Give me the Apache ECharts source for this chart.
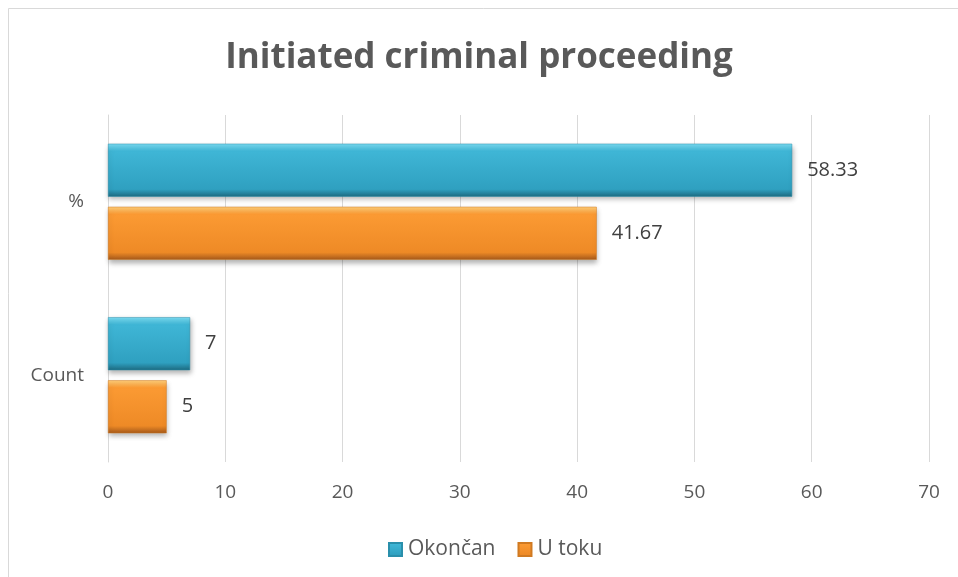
<!DOCTYPE html>
<html>
<head>
<meta charset="utf-8">
<script src="https://cdn.jsdelivr.net/npm/echarts@6/dist/echarts.min.js"></script>
<style>html,body{margin:0;padding:0;background:#fff}#c{width:958px;height:577px}</style>
</head>
<body>
<div id="c"></div>
<script>
const titleText = 'Initiated criminal proceeding';
const categories = ['%', 'Count'];
const seriesNames = ['Okončan', 'U toku'];
const okoncanValues = [58.33, 7];
const uTokuValues = [41.67, 5];
const xTicks = [0, 10, 20, 30, 40, 50, 60, 70];

const FONT = 'Open Sans';
function grad(c0, c1, c2, c3) {
  return new echarts.graphic.LinearGradient(0, 0, 0, 1, [
    {offset: 0, color: c0}, {offset: 0.14, color: c1},
    {offset: 0.86, color: c2}, {offset: 1, color: c3}
  ]);
}
const blueFill = grad('#7adcf2', '#3fb6d6', '#2fa0c0', '#1d6a80');
const orangeFill = grad('#ffcf7a', '#fb9a33', '#ee8a26', '#a4581a');

const chart = echarts.init(document.getElementById('c'), null, {renderer: 'canvas'});
const labelStyle = {show: true, position: 'right', distance: 15, color: '#404040', fontSize: 20, fontFamily: FONT};
chart.setOption({
  animation: false,
  backgroundColor: '#fff',
  graphic: [{
    type: 'rect', shape: {x: 8.5, y: 8.5, width: 1000, height: 1000},
    style: {fill: 'none', stroke: '#d9d9d9', lineWidth: 1}, silent: true
  }],
  title: {
    text: titleText, left: 'center', top: 36,
    textStyle: {fontFamily: FONT, fontWeight: 'bold', fontSize: 35, color: '#595959'}
  },
  legend: {
    bottom: 12, left: 383, itemWidth: 13, itemHeight: 13, itemGap: 22,
    icon: 'rect',
    textStyle: {fontFamily: FONT, fontSize: 21, color: '#595959', padding: [0, 0, 0, 1]},
    data: seriesNames
  },
  grid: {left: 108, right: 29, top: 115, bottom: 115, containLabel: false},
  xAxis: {
    type: 'value', min: xTicks[0], max: xTicks[xTicks.length - 1], interval: 10,
    axisLine: {show: false}, axisTick: {show: false},
    axisLabel: {fontFamily: FONT, fontSize: 19, color: '#595959', margin: 21},
    splitLine: {lineStyle: {color: '#d9d9d9', width: 1}}
  },
  yAxis: {
    type: 'category', data: categories, inverse: true,
    axisLine: {show: true, lineStyle: {color: '#d9d9d9'}}, axisTick: {show: false},
    axisLabel: {fontFamily: FONT, fontSize: 19, color: '#595959', margin: 24}
  },
  series: [
    {
      name: seriesNames[0], type: 'bar', data: okoncanValues, barWidth: 53, barGap: '19%',
      itemStyle: {color: blueFill, borderColor: '#2a8fab', borderWidth: 0.5,
        shadowColor: 'rgba(0,0,0,0.3)', shadowBlur: 5, shadowOffsetY: 3, shadowOffsetX: 1},
      label: labelStyle
    },
    {
      name: seriesNames[1], type: 'bar', data: uTokuValues, barWidth: 53, barGap: '19%',
      itemStyle: {color: orangeFill, borderColor: '#d07a22', borderWidth: 0.5,
        shadowColor: 'rgba(0,0,0,0.3)', shadowBlur: 5, shadowOffsetY: 3, shadowOffsetX: 1},
      label: labelStyle
    }
  ]
});
</script>
</body>
</html>
